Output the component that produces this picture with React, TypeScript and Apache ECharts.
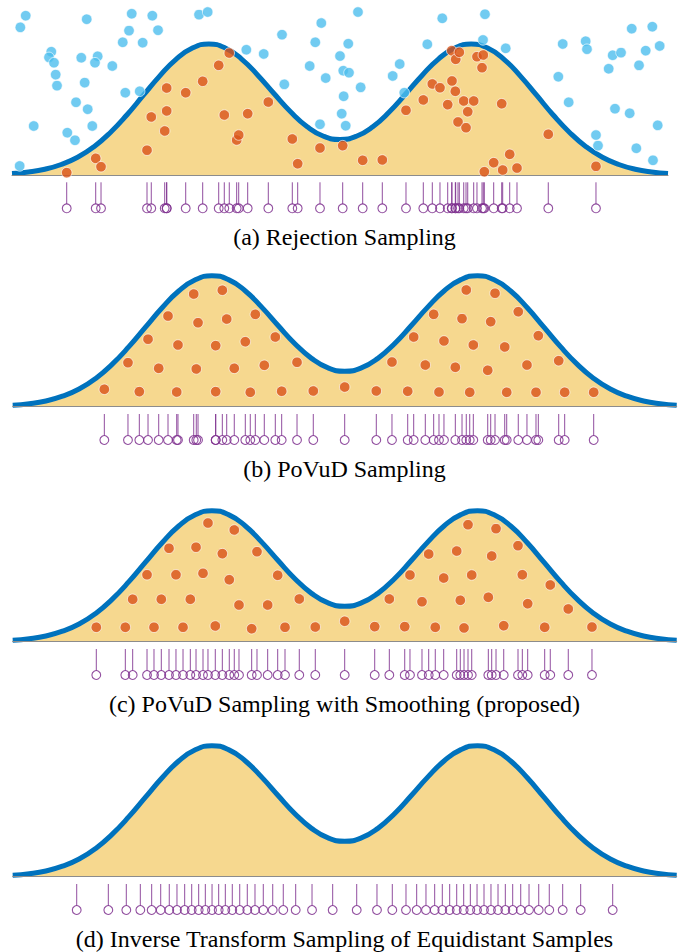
import React, { useEffect, useRef } from "react";
import * as echarts from "echarts";

// ---------- data ----------
const curveX = [0, 2.5, 5, 7.5, 10, 12.5, 15, 17.5, 20, 22.5, 25, 27.5, 30, 32.5, 35, 37.5, 40, 42.5, 45, 47.5, 50,
  52.5, 55, 57.5, 60, 62.5, 65, 67.5, 70, 72.5, 75, 77.5, 80, 82.5, 85, 87.5, 90, 92.5, 95, 97.5, 100];
const density = [0.011, 0.023, 0.044, 0.08, 0.135, 0.216, 0.325, 0.458, 0.607, 0.755, 0.883, 0.969, 1.0, 0.97, 0.885, 0.76, 0.618, 0.481, 0.369, 0.296, 0.271,
  0.296, 0.369, 0.481, 0.618, 0.76, 0.885, 0.97, 1.0, 0.969, 0.883, 0.755, 0.607, 0.458, 0.325, 0.216, 0.135, 0.08, 0.044, 0.023, 0.011];

const captions = [
  "(a) Rejection Sampling",
  "(b) PoVuD Sampling",
  "(c) PoVuD Sampling with Smoothing (proposed)",
  "(d) Inverse Transform Sampling of Equidistant Samples",
];

// (a) accepted samples [x, y]
const rejectionAccepted: [number, number][] = [
  [8.34, 0.018], [12.76, 0.127], [13.57, 0.063], [20.58, 0.189], [21.23, 0.443], [23.28, 0.336], [23.58, 0.489],
  [23.58, 0.664], [26.48, 0.628], [29.07, 0.715], [31.51, 0.837], [33.12, 0.931], [32.36, 0.458], [34.25, 0.267],
  [34.56, 0.305], [35.93, 0.468], [39.07, 0.557], [42.73, 0.275], [43.55, 0.086], [46.95, 0.206], [50.41, 0.224],
  [53.46, 0.112], [56.45, 0.115], [60.06, 0.494], [62.7, 0.573], [64.07, 0.695], [65.24, 0.666], [66.42, 0.537],
  [67.03, 0.949], [67.64, 0.883], [68.19, 0.937], [67.07, 0.718], [67.58, 0.639], [67.99, 0.405], [68.86, 0.565],
  [69.47, 0.483], [69.21, 0.361], [70.38, 0.565], [70.88, 0.903], [71.84, 0.916], [71.65, 0.819], [74.65, 0.544],
  [72.0, 0.025], [73.43, 0.094], [74.8, 0.038], [75.87, 0.158], [76.98, 0.053], [81.75, 0.311], [89.02, 0.066],
];

// (a) rejected samples [x, y]
const rejectionRejected: [number, number][] = [
  [2.09, 1.216], [1.27, 1.127], [11.39, 1.189], [18.25, 1.231], [21.39, 1.216], [17.84, 1.102], [22.26, 1.105],
  [16.88, 1.013], [19.92, 1.01], [28.51, 1.224], [29.83, 1.244], [5.99, 0.941], [5.64, 0.898], [6.4, 0.857],
  [10.56, 0.895], [13.06, 0.906], [12.65, 0.857], [15.29, 0.832], [6.66, 0.766], [6.86, 0.682], [11.08, 0.705],
  [17.27, 0.628], [19.47, 0.639], [9.76, 0.555], [11.54, 0.502], [3.31, 0.374], [8.43, 0.323], [9.6, 0.265],
  [12.24, 0.374], [1.17, 0.069], [35.72, 0.956], [38.37, 0.924], [41.16, 1.071], [47.15, 1.16], [46.23, 1.013],
  [45.38, 0.832], [47.82, 0.74], [41.51, 0.692], [46.95, 0.387], [50.0, 0.908], [51.26, 1.002], [50.5, 0.796],
  [51.37, 0.781], [50.56, 0.601], [53.15, 0.669], [50.26, 0.468], [50.87, 0.376], [52.74, 1.244], [59.1, 0.847],
  [58.03, 0.756], [59.8, 0.628], [65.59, 1.196], [72.1, 1.227], [63.31, 0.998], [71.8, 1.031], [75.26, 0.967],
  [83.95, 1.0], [83.28, 0.75], [84.86, 0.555], [87.45, 1.021], [87.65, 0.96], [91.57, 0.914], [92.84, 0.934],
  [90.96, 0.811], [94.47, 1.117], [97.61, 1.132], [96.6, 0.949], [98.73, 0.985], [95.58, 0.837], [91.92, 0.506],
  [94.16, 0.471], [98.43, 0.379], [89.02, 0.305], [89.33, 0.224], [95.17, 0.204], [97.71, 0.112],
];

// (b) PoVuD samples [x, y]
const povudSamples: [number, number][] = [
  [13.8, 0.133], [17.36, 0.336], [19.07, 0.115], [20.38, 0.515], [21.99, 0.293], [23.39, 0.692], [24.7, 0.112],
  [24.89, 0.471], [27.26, 0.86], [27.65, 0.288], [27.91, 0.641], [30.57, 0.466], [30.57, 0.115], [31.57, 0.889],
  [32.23, 0.669], [33.37, 0.293], [35.03, 0.496], [35.78, 0.11], [36.54, 0.705], [37.89, 0.316], [39.55, 0.532],
  [40.51, 0.118], [42.82, 0.339], [45.27, 0.12], [50.0, 0.15], [54.76, 0.12], [57.12, 0.341], [59.49, 0.118],
  [60.39, 0.532], [62.14, 0.318], [63.4, 0.705], [64.2, 0.112], [64.95, 0.502], [66.66, 0.301], [67.67, 0.672],
  [68.31, 0.891], [68.83, 0.11], [69.37, 0.471], [71.54, 0.278], [71.99, 0.649], [72.64, 0.866], [74.1, 0.456],
  [74.4, 0.11], [76.14, 0.725], [77.45, 0.318], [78.81, 0.11], [79.16, 0.542], [82.23, 0.351], [83.13, 0.11],
  [87.5, 0.11],
];

// (c) PoVuD samples with smoothing [x, y]
const smoothedSamples: [number, number][] = [
  [12.59, 0.11], [16.96, 0.11], [18.07, 0.324], [20.23, 0.511], [21.28, 0.11], [22.38, 0.324], [23.54, 0.713],
  [24.59, 0.511], [25.65, 0.11], [26.75, 0.324], [27.61, 0.721], [28.66, 0.522], [29.41, 0.906], [30.51, 0.12],
  [31.57, 0.672], [32.62, 0.473], [33.37, 0.853], [34.08, 0.28], [35.99, 0.099], [36.79, 0.687], [38.4, 0.28],
  [39.91, 0.507], [41.01, 0.11], [43.16, 0.326], [45.57, 0.112], [50.0, 0.156], [54.52, 0.115], [56.72, 0.326],
  [59.04, 0.115], [59.83, 0.509], [61.64, 0.305], [62.65, 0.669], [63.64, 0.11], [64.91, 0.486], [66.87, 0.692],
  [67.41, 0.316], [67.97, 0.105], [68.57, 0.893], [69.13, 0.509], [71.63, 0.339], [72.14, 0.654], [72.79, 0.863],
  [73.95, 0.122], [76.1, 0.733], [76.75, 0.511], [77.56, 0.29], [80.12, 0.11], [80.96, 0.433], [83.67, 0.25],
  [87.24, 0.112],
];

// (d) equidistant inverse-transform samples (x only)
const inverseSamples = [
  9.64, 14.4, 17.11, 19.22, 20.93, 22.29, 23.58, 24.74, 25.9, 26.96, 28.01, 29.01, 30.02, 31.02, 32.02, 33.07,
  34.19, 35.33, 36.49, 37.74, 39.16, 40.75, 42.62, 45.08, 48.19, 51.81, 54.86, 57.17, 59.23, 60.84, 62.24, 63.55,
  64.7, 65.81, 66.87, 67.92, 68.92, 69.93, 70.98, 72.03, 73.09, 74.19, 75.3, 76.51, 77.76, 79.22, 80.81, 82.83,
  85.54, 90.36,
];

// ---------- styles / layout ----------
const BLUE = "#0072BD";
const ORANGE = "#D95319";
const LIGHTBLUE = "#4DBEEE";
const PURPLE = "#7E2F8E";
const FILL = "#EDB120";
const UNIT = 131;
const YMAX = 1.3;
const YMIN = -0.4;
const panels = [
  { left: 12, width: 656, base: 175 },
  { left: 12.7, width: 664, base: 406.7 },
  { left: 12.7, width: 664, base: 641.7 },
  { left: 12.7, width: 664, base: 876.7 },
];

function stemRender(params: any, api: any) {
  const p = api.coord([api.value(0), 0]);
  return {
    type: "group",
    children: [
      {
        type: "line",
        shape: { x1: p[0], y1: p[1] + 7.3, x2: p[0], y2: p[1] + 29 },
        style: { stroke: PURPLE, lineWidth: 1, opacity: 0.85 },
      },
      {
        type: "circle",
        shape: { cx: p[0], cy: p[1] + 33.3, r: 4.4 },
        style: { fill: "none", stroke: PURPLE, lineWidth: 1.1, opacity: 0.85 },
      },
    ],
  };
}

export default function App() {
  const ref = useRef<HTMLDivElement>(null);
  useEffect(() => {
    if (!ref.current) return;
    const chart = echarts.init(ref.current, null, { renderer: "svg" });
    const curve = curveX.map((x, i) => [x, density[i]]);
    const grids = panels.map((p) => ({
      left: p.left,
      width: p.width,
      top: p.base - YMAX * UNIT,
      height: (YMAX - YMIN) * UNIT,
      outerBoundsMode: "none",
      containLabel: false,
    }));
    const xAxes = panels.map((_, i) => ({
      type: "value",
      gridIndex: i,
      min: 0,
      max: 100,
      z: 3,
      axisLine: { show: true, onZero: true, lineStyle: { color: "#8c8c8c", width: 1 } },
      axisTick: { show: false },
      axisLabel: { show: false },
      splitLine: { show: false },
    }));
    const yAxes = panels.map((_, i) => ({
      type: "value",
      gridIndex: i,
      min: YMIN,
      max: YMAX,
      axisLine: { show: false },
      axisTick: { show: false },
      axisLabel: { show: false },
      splitLine: { show: false },
    }));
    const series: any[] = [];
    panels.forEach((_, i) => {
      series.push({
        type: "line",
        xAxisIndex: i,
        yAxisIndex: i,
        data: curve,
        smooth: 0.5,
        showSymbol: false,
        symbol: "none",
        lineStyle: { color: BLUE, width: 5 },
        areaStyle: { color: FILL, opacity: 0.5 },
        z: 2,
        silent: true,
      });
    });
    const scatterBase = {
      type: "scatter",
      symbol: "circle",
      symbolSize: 10.5,
      z: 4,
      silent: true,
    };
    series.push({ ...scatterBase, xAxisIndex: 0, yAxisIndex: 0, data: rejectionRejected, itemStyle: { color: LIGHTBLUE, borderColor: "#fff", borderWidth: 0.8 } });
    series.push({ ...scatterBase, xAxisIndex: 0, yAxisIndex: 0, data: rejectionAccepted, itemStyle: { color: ORANGE, borderColor: "#fff", borderWidth: 0.8 } });
    series.push({ ...scatterBase, xAxisIndex: 1, yAxisIndex: 1, data: povudSamples, itemStyle: { color: ORANGE, borderColor: "#fff", borderWidth: 0.8 } });
    series.push({ ...scatterBase, xAxisIndex: 2, yAxisIndex: 2, data: smoothedSamples, itemStyle: { color: ORANGE, borderColor: "#fff", borderWidth: 0.8 } });

    const stemSets = [
      rejectionAccepted.map((d) => d[0]),
      povudSamples.map((d) => d[0]),
      smoothedSamples.map((d) => d[0]),
      inverseSamples,
    ];
    stemSets.forEach((xs, i) => {
      series.push({
        type: "custom",
        xAxisIndex: i,
        yAxisIndex: i,
        data: xs.map((x) => [x, 0]),
        encode: { x: 0, y: 1 },
        renderItem: stemRender,
        clip: false,
        silent: true,
        z: 3,
      });
    });

    const graphic = captions.map((t, i) => ({
      type: "text",
      x: 344.5,
      y: panels[i].base + 62.2,
      silent: true,
      style: {
        text: t,
        fontFamily: "Liberation Serif",
        fontSize: 24,
        fill: "#000",
        align: "center",
        verticalAlign: "middle",
      },
    }));

    chart.setOption({
      animation: false,
      backgroundColor: "#fff",
      grid: grids,
      xAxis: xAxes,
      yAxis: yAxes,
      series,
      graphic,
    });
    return () => chart.dispose();
  }, []);
  return (
    <div
      ref={ref}
      style={{ position: "fixed", left: 0, top: 0, width: 683, height: 952 }}
    />
  );
}
